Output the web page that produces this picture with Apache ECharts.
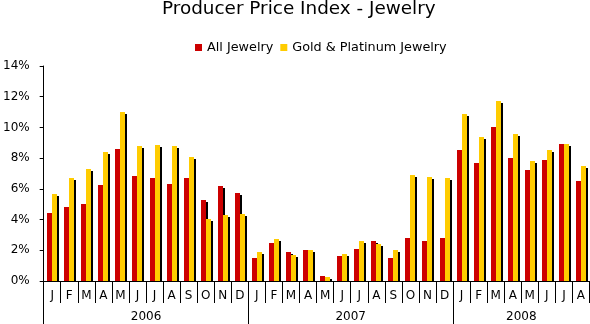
<!DOCTYPE html>
<html>
<head>
<meta charset="utf-8">
<script src="https://cdn.jsdelivr.net/npm/echarts@6/dist/echarts.min.js"></script>
<style>
html,body{margin:0;padding:0;background:#fff;}
#chart{width:590px;height:324px;}
</style>
</head>
<body>
<div id="chart"></div>
<script>
var months = ['J','F','M','A','M','J','J','A','S','O','N','D',
              'J','F','M','A','M','J','J','A','S','O','N','D',
              'J','F','M','A','M','J','J','A'];
var years = ['2006','2007','2008'];
var monthsPerYear = [12, 12, 8];
var allJewelry = [4.43,4.82,5.01,6.25,8.60,6.84,6.71,6.32,6.71,5.27,6.19,5.73,
                  1.50,2.47,1.89,2.02,0.33,1.63,2.08,2.60,1.50,2.80,2.60,2.80,
                  8.53,7.68,10.03,8.01,7.23,7.88,8.92,6.51];
var goldPlatinum = [5.67,6.71,7.29,8.40,11.0,8.79,8.86,8.79,8.07,4.04,4.30,4.36,
                    1.89,2.73,1.69,2.02,0.26,1.76,2.60,2.41,2.02,6.90,6.77,6.71,
                    10.87,9.38,11.72,9.57,7.81,8.53,8.92,7.49];

var FONT = 'DejaVu Sans';
var yearStarts = [], yearCenters = [], acc = 0;
monthsPerYear.forEach(function(n){ yearStarts.push(acc); yearCenters.push(acc + n/2); acc += n; });

var BAR_W = 5, SH = 2;
function barRenderer(slot, color){
  return function(params, api){
    var idx = api.value(0);
    var top = api.coord([idx, api.value(1)]);
    var base = api.coord([idx, 0]);
    var x = Math.round(top[0]) + (slot === 0 ? -BAR_W : 0);
    var y = Math.round(top[1]);
    var by = Math.round(base[1]);
    var h = by - y;
    var children = [];
    if (h > SH) {
      children.push({type:'rect', shape:{x:x+SH, y:y+SH, width:BAR_W, height:h-SH},
        style:{fill:'#000'}});
    }
    children.push({type:'rect', shape:{x:x, y:y, width:BAR_W, height:h},
      style:{fill:color}});
    return {type:'group', children:children};
  };
}

var chart = echarts.init(document.getElementById('chart'), null, {renderer:'canvas'});
chart.setOption({
  animation:false,
  backgroundColor:'#fff',
  title:{text:'Producer Price Index - Jewelry', left:162, top:0, padding:0,
    textStyle:{fontFamily:FONT, fontSize:18.4, fontWeight:'normal', color:'#000'}},
  legend:{left:195, top:41, padding:0, itemWidth:7, itemHeight:7, itemGap:7,
    icon:'rect', textStyle:{fontFamily:FONT, fontSize:12.8, color:'#000'},
    data:[{name:'All Jewelry', itemStyle:{color:'#CC0000'}},
          {name:'Gold & Platinum Jewelry', itemStyle:{color:'#FFCC00'}}]},
  grid:{left:41, right:0.5, top:66, bottom:43, containLabel:false},
  xAxis:[{
    type:'category', data:months, position:'bottom', z:10,
    axisLine:{lineStyle:{color:'#000', width:1}},
    axisTick:{show:true, interval:0, length:22, lineStyle:{color:'#000'}},
    axisLabel:{interval:0, margin:9, fontFamily:FONT, fontSize:12, color:'#000'},
    splitLine:{show:false}
  },{
    type:'value', min:0, max:months.length, position:'bottom',
    axisLine:{show:false},
    axisTick:{show:true, customValues:yearStarts, length:43, lineStyle:{color:'#000'}},
    axisLabel:{customValues:yearCenters, margin:30, fontFamily:FONT, fontSize:12, color:'#000',
      formatter:function(v){ return years[yearCenters.indexOf(v)]; }},
    splitLine:{show:false}
  }],
  yAxis:{type:'value', min:0, max:14, interval:2, z:10,
    axisLine:{show:true, lineStyle:{color:'#000'}},
    axisTick:{show:true, length:4, lineStyle:{color:'#000'}},
    axisLabel:{formatter:'{value}%', margin:14, fontFamily:FONT, fontSize:12, color:'#000'},
    splitLine:{show:false}},
  series:[
    {name:'All Jewelry', type:'custom', xAxisIndex:0, renderItem:barRenderer(0, '#CC0000'),
      itemStyle:{color:'#CC0000'},
      encode:{x:0, y:1},
      data:allJewelry.map(function(v,i){ return [i, v]; })},
    {name:'Gold & Platinum Jewelry', type:'custom', xAxisIndex:0, renderItem:barRenderer(1, '#FFCC00'),
      itemStyle:{color:'#FFCC00'},
      encode:{x:0, y:1},
      data:goldPlatinum.map(function(v,i){ return [i, v]; })}
  ]
});
</script>
</body>
</html>
